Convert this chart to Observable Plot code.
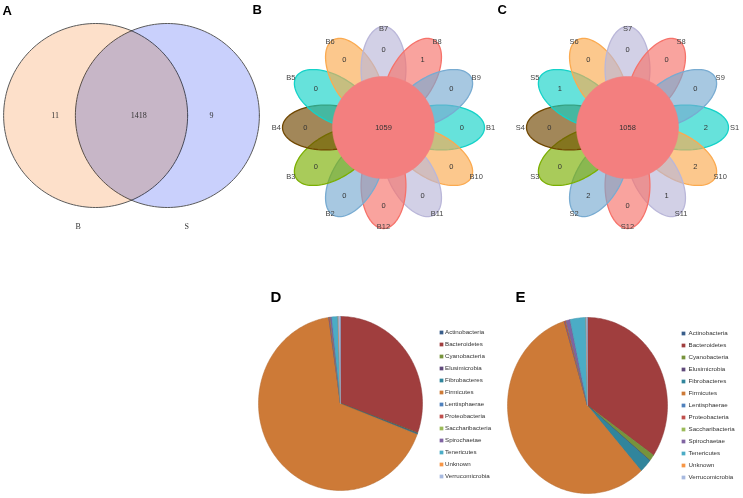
<!DOCTYPE html>
<html><head><meta charset="utf-8">
<script src="https://cdn.jsdelivr.net/npm/d3@7"></script>
<script src="https://cdn.jsdelivr.net/npm/@observablehq/plot@0.6"></script>
<style>
html,body{margin:0;padding:0;background:#fff;}
#fig{position:relative;width:743px;height:498px;overflow:hidden;font-family:"Liberation Sans",Arial,sans-serif;background:#fff;}
#fig > div{position:absolute;}
#fig svg{overflow:visible;background:transparent;}
</style></head><body><div id="fig"></div>
<script>
// ---------------- data ----------------
const vennSets = ["B", "S"];
const vennCounts = [11, 1418, 9]; // B only, shared, S only

const flowerBSamples = ["B1","B10","B11","B12","B2","B3","B4","B5","B6","B7","B8","B9"];
const flowerBValues  = [0,0,0,0,0,0,0,0,0,0,1,0];
const flowerBCore = 1059;
const flowerSSamples = ["S1","S10","S11","S12","S2","S3","S4","S5","S6","S7","S8","S9"];
const flowerSValues  = [2,2,1,0,2,0,0,1,0,0,0,0];
const flowerSCore = 1058;
const petalColors = ["#14D2C8","#FBAA50","#BAB7D9","#F6726A","#78ABD1","#7BAF02","#704700"];

const phyla = ["Actinobacteria","Bacteroidetes","Cyanobacteria","Elusimicrobia","Fibrobacteres","Firmicutes","Lentisphaerae","Proteobacteria","Saccharibacteria","Spirochaetae","Tenericutes","Unknown","Verrucomicrobia"];
const phylaColors = ["#385D8A","#A03E3E","#77933C","#5F497A","#31859C","#CD7A37","#4F81BD","#C0504D","#9BBB59","#8064A2","#4BACC6","#F79646","#A7B9DF"];
const phylumShareD = [0.05,30.4,0.1,0.1,0.15,66.9,0.05,0.2,0.05,0.3,1.2,0.1,0.4];
const phylumShareE = [0.05,34.5,1.2,0.05,2.5,57.0,0.05,0.3,0.05,0.8,3.2,0.05,0.25];

// ---------------- helpers ----------------
const fig = document.getElementById("fig");
function place(node, left, top, w, h) {
  const div = document.createElement("div");
  div.style.cssText = `position:absolute;left:${left}px;top:${top}px;width:${w}px;height:${h}px;`;
  div.appendChild(node);
  fig.appendChild(div);
}
function unitPlot(w, h, cx, cy, sx, sy, marks) {
  return Plot.plot({
    width: w, height: h, margin: 0,
    x: {domain: [-cx / sx, (w - cx) / sx], axis: null},
    y: {domain: [-(h - cy) / sy, cy / sy], axis: null},
    style: {background: "transparent", overflow: "visible"},
    marks
  });
}
const rad = Math.PI / 180;
function letter(t, dx, dy, size) {
  return Plot.text([t], {frameAnchor: "top-left", text: d => d, dx, dy, fontSize: size, fontWeight: "bold", fontFamily: "Liberation Sans", fill: "#000"});
}

// ---------------- A: Venn ----------------
{
  const off = 0.39;
  const circ = (cx, name) => d3.range(0, 361, 2).map(t => ({name, x: cx + Math.cos(t * rad), y: Math.sin(t * rad)}));
  const labX = [-off - 0.44, 0.08, off + 0.48];
  const setX = [-off - 0.19, off + 0.21];
  const p = unitPlot(260, 245, 131, 115, 92, 92, [
    Plot.line(circ(-off, vennSets[0]), {x: "x", y: "y", fill: "#FDE0CA", stroke: "#5a5a5a", strokeWidth: 1}),
    Plot.line(circ(off, vennSets[1]), {x: "x", y: "y", fill: "#C9D0FC", stroke: "#5a5a5a", strokeWidth: 1, mixBlendMode: "multiply"}),
    Plot.text(vennCounts, {x: (d, i) => labX[i], y: 0, text: d => String(d), fontFamily: "Liberation Serif", fontSize: 8, fill: "#333"}),
    Plot.text(vennSets, {x: (d, i) => setX[i], y: -1.21, text: d => d, fontFamily: "Liberation Serif", fontSize: 8, fill: "#333"}),
    letter("A", 2, 5, 13)
  ]);
  place(p, 0, 0, 260, 245);
}

// ---------------- B, C: flowers ----------------
function flower(samples, values, core, tag, left, w, cx) {
  const d = 0.574, a = 0.426, b = 0.222, rc = 0.505;
  const n = samples.length;
  const pts = [];
  samples.forEach((s, i) => {
    const th = (90 + 360 / n * i) * rad;
    const ux = Math.sin(th), uy = Math.cos(th), vx = Math.cos(th), vy = -Math.sin(th);
    for (let t = 0; t <= 360; t += 4) {
      const A = d + a * Math.cos(t * rad), B = b * Math.sin(t * rad);
      pts.push({s, c: petalColors[i % petalColors.length], x: A * ux + B * vx, y: A * uy + B * vy});
    }
  });
  const core_ = d3.range(0, 361, 3).map(t => ({x: rc * Math.cos(t * rad), y: rc * Math.sin(t * rad)}));
  const ang = i => (90 + 360 / n * i) * rad;
  const p = unitPlot(w, 245, cx, 127, 101, 101, [
    Plot.line(pts, {x: "x", y: "y", z: "s", fill: "c", stroke: "c", fillOpacity: 0.65, strokeWidth: 1.3}),
    Plot.line(core_, {x: "x", y: "y", fill: "#F37F7F", stroke: "#F37F7F", strokeWidth: 0.5}),
    Plot.text(values, {x: (v, i) => 0.775 * Math.sin(ang(i)), y: (v, i) => 0.775 * Math.cos(ang(i)), text: v => String(v), fontSize: 7.5, fill: "#333", fontFamily: "Liberation Sans"}),
    Plot.text(samples, {x: (v, i) => 1.06 * Math.sin(ang(i)), y: (v, i) => 0.98 * Math.cos(ang(i)), text: v => v, fontSize: 7.5, fill: "#444", fontFamily: "Liberation Sans"}),
    Plot.text([core], {x: 0, y: 0, text: v => String(v), fontSize: 7.5, fill: "#333", fontFamily: "Liberation Sans"}),
    letter(tag, 7, 4, 13)
  ]);
  place(p, left, 0, w, 245);
}
flower(flowerBSamples, flowerBValues, flowerBCore, "B", 245, 245, 138);
flower(flowerSSamples, flowerSValues, flowerSCore, "C", 490, 253, 137);

// ---------------- D, E: pies ----------------
function pie(values, tag, left, cx, cy, rx, ry, dx) {
  const arcs = d3.pie().sort(null).value(v => v)(values);
  const pts = [];
  arcs.forEach((arc, i) => {
    const name = phyla[i], col = phylaColors[i], st = d3.color(col).darker(0.4).formatHex();
    const s = arc.startAngle, e = arc.endAngle;
    const n = Math.max(2, Math.ceil((e - s) / rad));
    pts.push({name, col, st, x: 0, y: 0});
    for (let k = 0; k <= n; k++) {
      const t = s + (e - s) * k / n;
      pts.push({name, col, st, x: Math.sin(t), y: Math.cos(t)});
    }
    pts.push({name, col, st, x: 0, y: 0});
  });
  const p = unitPlot(250, 248, cx, cy, rx, ry, [
    Plot.line(pts, {x: "x", y: "y", z: "name", fill: "col", stroke: "st", strokeWidth: 0.5}),
    letter(tag, dx, 41, 15)
  ]);
  place(p, left, 250, 250, 248);
}
pie(phylumShareD, "D", 240, 100, 153, 82, 87, 30);
pie(phylumShareE, "E", 490, 97, 155, 80, 88, 25);

function legend(left, top, y0, y1, textDx) {
  const p = Plot.plot({
    width: 65, height: 188, margin: 0,
    x: {domain: [0, 1], range: [5, 60], axis: null},
    y: {type: "point", domain: phyla, range: [y0, y1], axis: null},
    style: {background: "transparent", overflow: "visible"},
    marks: [
      Plot.dot(phyla, {x: 0, y: d => d, symbol: "square", r: 2.1, fill: (d, i) => phylaColors[i], stroke: null}),
      Plot.text(phyla, {x: 0, y: d => d, text: d => d, dx: textDx, textAnchor: "start", fontSize: 6.2, fill: "#333", fontFamily: "Liberation Sans"})
    ]
  });
  place(p, left, top, 65, 188);
}
legend(436, 310, 10, 178, 3.5);
legend(678, 310, 12, 177, 5);
</script></body></html>
